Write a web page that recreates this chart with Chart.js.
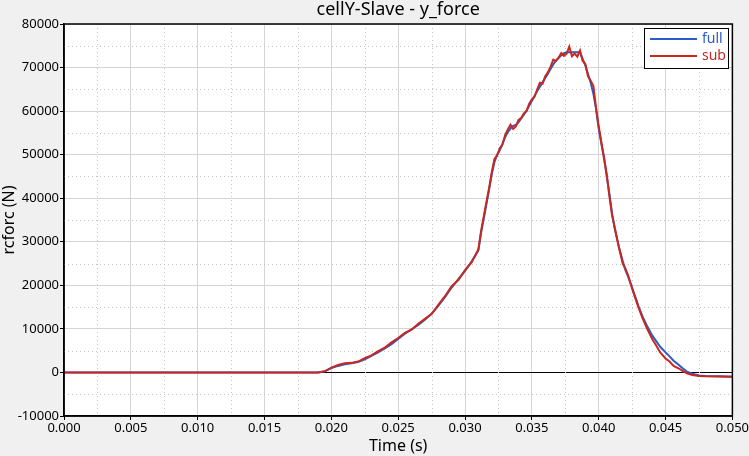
<!DOCTYPE html>
<html>
<head>
<meta charset="utf-8">
<script src="https://cdn.jsdelivr.net/npm/chart.js@4"></script>
<style>
  html, body { margin: 0; padding: 0; background: #f0f0f0; }
  #wrap { width: 749px; height: 456px; position: relative; }
</style>
</head>
<body>
<div id="wrap"><canvas id="forceChart"></canvas></div>
<script>
const chartTitle = "cellY-Slave - y_force";

const time = [
  0, 0.019, 0.0195, 0.020, 0.0205, 0.021, 0.0215, 0.022, 0.0225, 0.023,
  0.0235, 0.024, 0.0245, 0.025, 0.0255, 0.026, 0.0265, 0.027, 0.0275, 0.028,
  0.0285, 0.029, 0.0295, 0.030, 0.0305, 0.031, 0.0312, 0.0315, 0.0318, 0.032,
  0.0322, 0.0324, 0.0326, 0.0328, 0.033, 0.0332, 0.0334, 0.0336, 0.0338, 0.034,
  0.0342, 0.0344, 0.0346, 0.0348, 0.035, 0.0352, 0.0354, 0.0356, 0.0358, 0.036,
  0.0362, 0.0364, 0.0366, 0.0368, 0.037, 0.0372, 0.0374, 0.0376, 0.0378, 0.038,
  0.0382, 0.0384, 0.0386, 0.0388, 0.039, 0.0392, 0.0394, 0.0396, 0.0398, 0.040,
  0.0402, 0.0404, 0.0406, 0.0408, 0.041, 0.0412, 0.0415, 0.0418, 0.042, 0.0422,
  0.0425, 0.0428, 0.043, 0.0433, 0.0436, 0.044, 0.0443, 0.0446, 0.045, 0.0453,
  0.0456, 0.046, 0.0463, 0.0466, 0.047, 0.0475, 0.048, 0.049, 0.050
];

const fullForce = [
  0, 0, 300, 1000, 1500, 1900, 2100, 2400, 3000, 3800,
  4600, 5500, 6500, 7700, 8900, 9900, 10900, 12100, 13500, 15300,
  17300, 19500, 21400, 23300, 25500, 28000, 32000, 37000, 42000, 45500,
  48300, 50000, 51000, 52500, 54000, 55200, 56000, 56600, 56800, 57400,
  58300, 59200, 60100, 61200, 62300, 63500, 64600, 65600, 66600, 67600,
  68600, 69700, 70700, 71600, 72200, 72800, 73300, 73500, 73500, 73500,
  73500, 73500, 73500, 72000, 70500, 68500, 66500, 64000, 60500, 56000,
  52500, 49500, 45000, 41000, 36500, 33000, 29000, 25500, 23500, 22000,
  19500, 16800, 15000, 12700, 10800, 8500, 7200, 5900, 4600, 3700,
  2700, 1700, 900, 200, -300, -700, -800, -900, -1000
];

const subForce = [
  0, 0, 200, 1100, 1700, 2100, 2200, 2500, 3300, 3900,
  4900, 5700, 6900, 7900, 9100, 9800, 11200, 12300, 13400, 15500,
  17500, 19800, 21200, 23500, 25300, 28300, 32500, 37500, 42300, 46000,
  49000, 49800, 51500, 52300, 54500, 55800, 56900, 55900, 56500, 58000,
  58400, 59500, 60000, 61700, 62700, 63300, 65000, 66500, 66300, 68000,
  68900, 70200, 71800, 71500, 72300, 73300, 72700, 73200, 74800, 72600,
  73200, 72500, 73900, 71500, 70800, 68000, 67000, 65800, 60800, 56500,
  52800, 49000, 45500, 40500, 36000, 33300, 28800, 25000, 23800, 22300,
  19200, 16500, 14700, 12300, 10200, 7700, 6200, 4600, 3200, 2500,
  1500, 900, 300, -200, -600, -800, -900, -950, -1000
];

const xTicks = [0, 0.005, 0.01, 0.015, 0.02, 0.025, 0.03, 0.035, 0.04, 0.045, 0.05];
const yTicks = [-10000, 0, 10000, 20000, 30000, 40000, 50000, 60000, 70000, 80000];

const FONT = "'Noto Sans', 'Open Sans', sans-serif";

function toPoints(xs, ys) {
  return xs.map((x, i) => ({ x: x, y: ys[i] }));
}

// background, minor dotted grid, frame, title and legend
const decorations = {
  id: "decorations",
  beforeDraw(chart) {
    const { ctx, chartArea: a } = chart;
    ctx.save();
    ctx.fillStyle = "#f0f0f0";
    ctx.fillRect(0, 0, chart.width, chart.height);
    ctx.fillStyle = "#ffffff";
    ctx.fillRect(a.left, a.top, a.right - a.left, a.bottom - a.top);
    ctx.restore();
  },
  beforeDatasetsDraw(chart) {
    const { ctx, chartArea: a, scales } = chart;
    ctx.save();
    ctx.strokeStyle = "#c4c4c4";
    ctx.lineWidth = 1;
    ctx.setLineDash([1, 3]);
    for (let i = 0; i < xTicks.length - 1; i++) {
      const px = Math.round(scales.x.getPixelForValue((xTicks[i] + xTicks[i + 1]) / 2)) + 0.5;
      ctx.beginPath();
      ctx.moveTo(px, a.top);
      ctx.lineTo(px, a.bottom);
      ctx.stroke();
    }
    for (let i = 0; i < yTicks.length - 1; i++) {
      const py = Math.round(scales.y.getPixelForValue((yTicks[i] + yTicks[i + 1]) / 2)) + 0.5;
      ctx.beginPath();
      ctx.moveTo(a.left, py);
      ctx.lineTo(a.right, py);
      ctx.stroke();
    }
    ctx.restore();
  },
  afterDraw(chart) {
    const { ctx, chartArea: a } = chart;
    ctx.save();
    ctx.strokeStyle = "#000";
    ctx.lineWidth = 1.5;
    ctx.strokeRect(a.left, a.top, a.right - a.left, a.bottom - a.top);

    ctx.fillStyle = "#000";
    ctx.font = "18px " + FONT;
    ctx.textAlign = "center";
    ctx.textBaseline = "middle";
    ctx.fillText(chartTitle, (a.left + a.right) / 2, 10);

    // legend box
    const bx = 644, by = 28, bw = 84, bh = 40;
    ctx.fillStyle = "#fff";
    ctx.fillRect(bx, by, bw, bh);
    ctx.strokeStyle = "#000";
    ctx.lineWidth = 1;
    ctx.strokeRect(bx + 0.5, by + 0.5, bw, bh);
    ctx.font = "14px " + FONT;
    ctx.textAlign = "left";
    chart.data.datasets.forEach((ds, i) => {
      const y = by + 11 + i * 17;
      ctx.strokeStyle = ds.borderColor;
      ctx.lineWidth = 2;
      ctx.beginPath();
      ctx.moveTo(bx + 6, y);
      ctx.lineTo(bx + 53, y);
      ctx.stroke();
      ctx.fillStyle = ds.borderColor;
      ctx.fillText(ds.label, bx + 58, y);
    });
    ctx.restore();
  }
};

new Chart(document.getElementById("forceChart"), {
  type: "line",
  data: {
    datasets: [
      {
        label: "full",
        data: toPoints(time, fullForce),
        borderColor: "#2a5bc8",
        borderWidth: 2,
        pointRadius: 0,
        tension: 0,
        order: 1
      },
      {
        label: "sub",
        data: toPoints(time, subForce),
        borderColor: "#c8281e",
        borderWidth: 2,
        pointRadius: 0,
        tension: 0,
        order: 0
      }
    ]
  },
  options: {
    responsive: true,
    maintainAspectRatio: false,
    animation: false,
    layout: { padding: { top: 24, right: 16, left: 0, bottom: 0 } },
    plugins: {
      legend: { display: false },
      title: { display: false },
      tooltip: { enabled: false }
    },
    scales: {
      x: {
        type: "linear",
        min: 0,
        max: 0.05,
        afterBuildTicks(scale) {
          scale.ticks = xTicks.map((v) => ({ value: v }));
        },
        afterFit(scale) {
          scale.height = 40;
        },
        grid: {
          color: "#d4d4d4",
          tickColor: "#000",
          tickLength: 4
        },
        border: { color: "#000", width: 1.5 },
        ticks: {
          color: "#000",
          font: { family: FONT, size: 13 },
          padding: 0,
          maxRotation: 0,
          autoSkip: false,
          callback: (v) => Number(v).toFixed(3)
        },
        title: {
          display: true,
          text: "Time (s)",
          color: "#000",
          font: { family: FONT, size: 16 },
          padding: { top: 0, bottom: 0 }
        }
      },
      y: {
        min: -10000,
        max: 80000,
        afterBuildTicks(scale) {
          scale.ticks = yTicks.map((v) => ({ value: v }));
        },
        afterFit(scale) {
          scale.width = 64;
        },
        grid: {
          color: (c) => (c.tick && c.tick.value === 0 ? "#000" : "#d4d4d4"),
          tickColor: "#000",
          tickLength: 4
        },
        border: { color: "#000", width: 1.5 },
        ticks: {
          color: "#000",
          font: { family: FONT, size: 13 },
          padding: 1,
          callback: (v) => String(v)
        },
        title: {
          display: true,
          text: "rcforc (N)",
          color: "#000",
          font: { family: FONT, size: 16 },
          padding: { top: 0, bottom: 0 }
        }
      }
    }
  },
  plugins: [decorations]
});
</script>
</body>
</html>
